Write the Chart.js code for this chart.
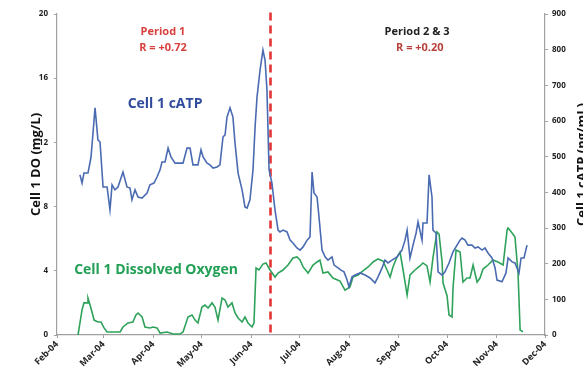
<!DOCTYPE html>
<html>
<head>
<meta charset="utf-8">
<script src="https://cdn.jsdelivr.net/npm/chart.js@4.4.1/dist/chart.umd.min.js"></script>
<style>
  body { margin: 0; background: #fff; }
  #wrap { width: 583px; height: 371px; position: relative; }
</style>
</head>
<body>
<div id="wrap"><canvas id="chart"></canvas></div>
<script>
// x values are days counted from 1 Feb 2004
const monthDays = [0, 29, 60, 90, 121, 151, 182, 213, 243, 274, 304];
const monthLabels = ['Feb-04', 'Mar-04', 'Apr-04', 'May-04', 'Jun-04', 'Jul-04',
                     'Aug-04', 'Sep-04', 'Oct-04', 'Nov-04', 'Dec-04'];

// Cell 1 cATP (ng/mL), right axis
const atpDays = [14.3, 15.6, 16.8, 19.3, 21.2, 23.7, 25.5, 26.8, 28.7, 31.2, 33.0, 34.3, 36.1, 38.0,
  41.1, 43.6, 45.5, 46.7, 48.6, 50.5, 53.0, 56.1, 57.9, 60.4, 62.3, 64.2, 65.4, 67.3, 69.2, 71.0,
  73.5, 78.5, 81.0, 82.9, 84.7, 87.8, 89.7, 91.0, 93.5, 95.3, 97.2, 99.7, 101.5, 103.4, 104.7,
  105.9, 107.8, 109.6, 110.9, 112.8, 115.3, 117.1, 118.4, 120.2, 122.1, 123.4, 124.6, 126.5,
  128.3, 129.6, 130.8, 132.1, 133.9, 135.8, 137.7, 138.9, 140.8, 143.3, 145.2, 147.0, 149.5,
  151.4, 153.3, 155.8, 157.6, 158.9, 160.1, 162.0, 163.2, 165.1, 167.0, 168.8, 171.3, 172.6,
  175.1, 176.9, 178.8, 180.7, 181.9, 183.8, 185.7, 188.8, 191.9, 195.0, 198.1, 200.0, 202.5,
  204.3, 206.2, 208.7, 211.8, 214.9, 216.8, 218.1, 219.9, 221.8, 223.7, 224.9, 227.4, 228.0,
  230.5, 231.8, 233.6, 234.2, 236.1, 237.4, 239.9, 241.7, 244.2, 246.7, 249.2, 251.1, 252.3,
  254.2, 256.0, 258.5, 260.4, 262.3, 264.8, 266.6, 268.5, 271.0, 272.9, 274.1, 277.2, 279.7,
  281.0, 283.5, 285.3, 287.8, 289.1, 290.9, 292.8];
const atpValues = [449, 426, 454, 454, 499, 637, 547, 541, 415, 415, 351, 421, 407, 415,
  457, 415, 412, 379, 407, 387, 384, 398, 421, 426, 443, 463, 485, 485, 524, 499,
  482, 482, 524, 524, 477, 477, 519, 499, 482, 477, 468, 471, 477, 555, 561,
  611, 637, 611, 538, 454, 407, 359, 356, 379, 463, 583, 667, 743,
  799, 771, 687, 463, 426, 351, 294, 289, 294, 289, 266, 258, 244,
  238, 247, 266, 275, 457, 398, 387, 331, 238, 219, 210, 219, 196,
  188, 182, 177, 154, 135, 163, 168, 174, 168, 160, 146, 163, 188,
  210, 202, 210, 219, 238, 266, 294, 216, 252, 286, 317, 266, 314,
  314, 449, 387, 294, 286, 177, 168, 177, 202, 233, 252, 266, 272,
  266, 252, 252, 244, 247, 238, 244, 230, 216, 188, 154, 149, 174,
  216, 205, 202, 174, 216, 216, 252];

// Cell 1 dissolved oxygen (mg/L), left axis
const doDays = [13.1, 14.3, 15.6, 16.8, 18.7, 19.3, 20.6, 21.8, 23.1, 25.5, 27.4, 29.3, 31.2, 34.3,
  39.3, 41.1, 44.2, 47.3, 49.2, 50.5, 53.0, 54.8, 57.9, 59.8, 62.3, 64.2, 68.5, 72.3, 76.6, 78.5,
  81.6, 84.1, 86.0, 87.8, 90.3, 92.2, 94.1, 96.6, 98.4, 100.3, 102.8, 104.7, 106.5, 109.0, 110.9,
  112.8, 115.3, 117.1, 119.0, 121.5, 122.7, 124.0, 125.8, 128.3, 130.2, 132.7, 135.8, 137.7,
  140.8, 143.9, 147.0, 149.5, 151.4, 153.3, 156.4, 159.5, 162.0, 163.8, 165.7, 168.8, 171.9,
  176.3, 179.4, 182.5, 184.4, 187.5, 190.6, 193.8, 196.9, 200.0, 203.1, 205.6, 207.5, 209.3,
  211.8, 213.7, 215.6, 218.1, 219.9, 223.0, 226.1, 228.0, 230.5, 232.4, 234.2, 236.7, 238.0,
  239.9, 240.5, 243.0, 244.2, 246.1, 246.7, 248.6, 251.1, 252.9, 255.4, 257.3, 259.2, 261.7,
  263.5, 265.4, 268.5, 271.6, 274.7, 277.9, 280.4, 281.0, 283.5, 285.3, 287.2, 288.5, 290.3];
const doValues = [0, 0.75, 1.56, 2.0, 2.0, 2.3, 1.87, 1.43, 0.93, 0.81, 0.81, 0.44, 0.19, 0.19,
  0.19, 0.5, 0.75, 0.81, 1.25, 1.37, 1.12, 0.5, 0.44, 0.5, 0.44, 0.12, 0.19, 0.06, 0.06, 0.19,
  1.12, 1.25, 0.93, 0.75, 1.74, 1.87, 1.68, 2.0, 1.74, 0.93, 2.3, 2.18, 1.74, 2.0, 1.37,
  1.06, 0.81, 1.12, 0.75, 0.5, 0.75, 4.17, 4.05, 4.42, 4.49, 4.05, 3.61, 3.86,
  4.05, 4.36, 4.80, 4.86, 4.67, 4.24, 3.86, 4.36, 4.55, 4.67, 3.86, 3.93, 3.55,
  3.36, 2.80, 2.99, 3.61, 3.74, 3.99, 4.24, 4.55, 4.74, 4.61, 4.05, 3.61, 4.24,
  4.86, 5.17, 4.05, 2.49, 3.74, 4.05, 4.30, 4.49, 4.30, 3.30, 4.80, 6.42, 6.29,
  4.55, 3.24, 2.43, 1.25, 1.12, 2.93, 5.30, 5.17, 3.30, 3.55, 3.55, 4.36, 3.30,
  3.55, 4.11, 4.36, 4.67, 4.55, 4.36, 6.54, 6.67, 6.36, 6.11, 3.86, 0.31, 0.19];

// period split (dashed line), in days
const splitDay = 133;

// text notes: [text, day, DO value, colour, size]
const notes = [
  ['Period 1', 66, 18.9, '#d8403d', 11],
  ['R = +0.72', 66, 17.9, '#d8403d', 11],
  ['Period 2 & 3', 224.3, 18.9, '#222222', 11],
  ['R = +0.20', 226, 17.9, '#b8403c', 11],
  ['Cell 1 cATP', 67.3, 14.4, '#2f4b9c', 14],
  ['Cell 1 Dissolved Oxygen', 61.7, 4.05, '#22a055', 14]
];

const FONT = '"Open Sans", "DejaVu Sans", sans-serif';
const axisGrey = '#a0a0a0';

const notesPlugin = {
  id: 'notes',
  afterDraw(chart) {
    const c = chart.ctx;
    const xs = chart.scales.x, yl = chart.scales.yDO;
    c.save();
    c.textAlign = 'center';
    c.textBaseline = 'middle';
    notes.forEach(n => {
      c.font = 'bold ' + n[4] + 'px ' + FONT;
      c.fillStyle = n[3];
      c.fillText(n[0], xs.getPixelForValue(n[1]), yl.getPixelForValue(n[2]));
    });
    // axis titles, both read bottom to top
    const midY = (chart.chartArea.top + chart.chartArea.bottom) / 2;
    c.font = 'bold 13px ' + FONT;
    c.fillStyle = '#111';
    c.translate(36, midY - 10);
    c.rotate(-Math.PI / 2);
    c.fillText('Cell 1 DO (mg/L)', 0, 0);
    c.setTransform(1, 0, 0, 1, 0, 0);
    c.translate(582, midY - 10);
    c.rotate(-Math.PI / 2);
    c.fillText('Cell 1 cATP (ng/mL)', 0, 0);
    c.restore();
  }
};

const ctx = document.getElementById('chart');
new Chart(ctx, {
  type: 'line',
  data: {
    datasets: [
      {
        label: 'Cell 1 cATP',
        data: atpDays.map((d, i) => ({ x: d, y: atpValues[i] })),
        yAxisID: 'yATP',
        borderColor: '#4a6bb2',
        borderWidth: 1.6,
        pointRadius: 0,
        tension: 0
      },
      {
        label: 'Cell 1 Dissolved Oxygen',
        data: doDays.map((d, i) => ({ x: d, y: doValues[i] })),
        yAxisID: 'yDO',
        borderColor: '#2ea25a',
        borderWidth: 1.6,
        pointRadius: 0,
        tension: 0
      },
      {
        label: 'split',
        data: [{ x: splitDay, y: 20.1 }, { x: splitDay, y: 0 }],
        yAxisID: 'yDO',
        borderColor: '#e23535',
        borderWidth: 2.6,
        borderDash: [8, 5],
        pointRadius: 0,
        clip: false
      }
    ]
  },
  options: {
    responsive: true,
    maintainAspectRatio: false,
    animation: false,
    layout: { padding: { top: 14, right: 0, left: 0, bottom: 0 } },
    plugins: {
      legend: { display: false },
      tooltip: { enabled: false }
    },
    scales: {
      x: {
        type: 'linear',
        min: 0,
        max: 304,
        afterBuildTicks: scale => { scale.ticks = monthDays.map(v => ({ value: v })); },
        afterFit: scale => { scale.height = 36; },
        grid: { drawOnChartArea: false, tickLength: 3, color: axisGrey },
        border: { color: axisGrey, width: 1.2 },
        ticks: {
          autoSkip: false,
          minRotation: 45,
          maxRotation: 45,
          padding: 1,
          color: '#222',
          font: { family: FONT, size: 9, weight: 'bold' },
          callback: (v, i) => monthLabels[i]
        }
      },
      yDO: {
        position: 'left',
        min: 0,
        max: 20,
        afterFit: scale => { scale.width = 57; },
        grid: { drawOnChartArea: false, tickLength: 3, color: axisGrey },
        border: { color: axisGrey, width: 1.2 },
        ticks: {
          stepSize: 4,
          padding: 6,
          color: '#222',
          font: { family: FONT, size: 8, weight: 'bold' }
        }
      },
      yATP: {
        position: 'right',
        min: 0,
        max: 900,
        afterFit: scale => { scale.width = 38; },
        grid: { drawOnChartArea: false, tickLength: 3, color: axisGrey },
        border: { color: axisGrey, width: 1.2 },
        ticks: {
          stepSize: 100,
          padding: 4,
          color: '#222',
          font: { family: FONT, size: 8, weight: 'bold' }
        }
      }
    }
  },
  plugins: [notesPlugin]
});
</script>
</body>
</html>
